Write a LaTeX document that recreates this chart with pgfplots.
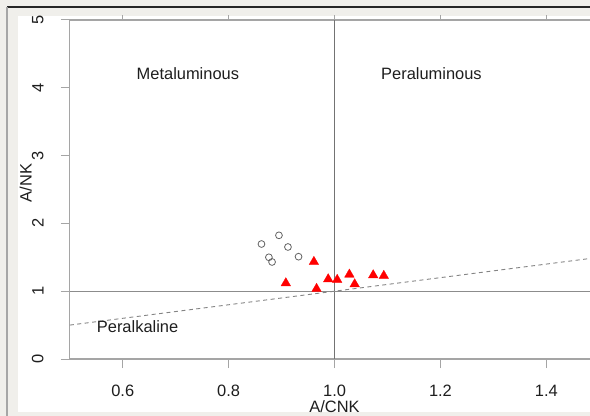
\documentclass[border=0pt]{standalone}
\usepackage{pgfplots}
\pgfplotsset{compat=1.18}
\usepackage{fontspec}
\setmainfont{Liberation Sans}

\definecolor{framebg}{RGB}{240,239,235}
\definecolor{axisgray}{RGB}{165,165,165}
\definecolor{refgray}{RGB}{115,115,115}
\definecolor{ptgray}{RGB}{100,100,100}
\definecolor{txt}{RGB}{30,30,30}

\begin{document}
\fontsize{16.5}{19}\selectfont
\begin{tikzpicture}
% page frame
\fill[framebg] (0bp,0bp) rectangle (590bp,416bp);
\draw[line width=1.6bp, black!85] (7bp,409bp) -- (590bp,409bp);
\draw[line width=2bp, black!35] (7bp,409bp) -- (7bp,0bp);
\fill[white] (18bp,4bp) rectangle (590bp,400bp);

\begin{scope}
\clip (18bp,3bp) rectangle (590bp,400bp);
\begin{axis}[
    at={(69.8bp,57bp)}, anchor=south west,
    scale only axis, width=529.5bp, height=339bp,
    xmin=0.5, xmax=1.5, ymin=0, ymax=5,
    xtick={0.6,0.8,1.0,1.2,1.4},
    xticklabels={0.6,0.8,1.0,1.2,1.4},
    ytick={0,1,2,3,4,5},
    yticklabels={0,1,2,3,4,5},
    /pgf/number format/assume math mode=true,
    tick align=outside,
    major tick length=9bp,
    tick style={axisgray, line width=1bp},
    axis line style={axisgray, line width=1.2bp},
    ticklabel style={txt, font=\fontsize{16.5}{19}\selectfont},
    xticklabel style={anchor=north, inner sep=0pt},
    xticklabel shift=17bp,
    yticklabel style={rotate=90, anchor=south, inner sep=0pt},
    yticklabel shift=17bp,
    xlabel={A/CNK},
    xlabel style={at={(axis description cs:0.5,-0.122)}, anchor=north, inner sep=0pt, txt},
    ylabel={A/NK},
    ylabel style={at={(axis description cs:-0.0714,0.519)}, anchor=south, inner sep=0pt, txt},
    label style={font=\fontsize{16.5}{19}\selectfont},
]
% boundary lines
\addplot[refgray, line width=0.9bp] coordinates {(1,0) (1,5)};
\addplot[axisgray!85!black, line width=1.3bp] coordinates {(0.5,1) (1.5,1)};
\addplot[axisgray!80!black, line width=0.9bp, dash pattern=on 4bp off 3.5bp] coordinates {(0.5,0.5) (1.5,1.5)};

% samples, open circles
\addplot[only marks, mark=o, mark size=3.4bp, ptgray, mark options={line width=0.8bp}] coordinates {
    (0.862,1.696) (0.895,1.824) (0.912,1.652)
    (0.932,1.509) (0.876,1.500) (0.882,1.431)
};
% samples, red triangles
\addplot[only marks, mark=triangle*, mark size=5.6bp, mark options={fill=red, draw=red, line width=0.2bp}] coordinates {
    (0.961,1.434) (0.908,1.119) (0.966,1.036)
    (0.988,1.178) (1.005,1.169) (1.028,1.247)
    (1.038,1.104) (1.073,1.237) (1.093,1.228)
};

\node[txt] at (axis cs:0.723,4.214) {Metaluminous};
\node[txt] at (axis cs:1.183,4.214) {Peraluminous};
\node[txt] at (axis cs:0.628,0.48) {Peralkaline};
\end{axis}
\end{scope}

\pgfresetboundingbox
\useasboundingbox (0bp,0bp) rectangle (590bp,416bp);
\end{tikzpicture}
\end{document}
